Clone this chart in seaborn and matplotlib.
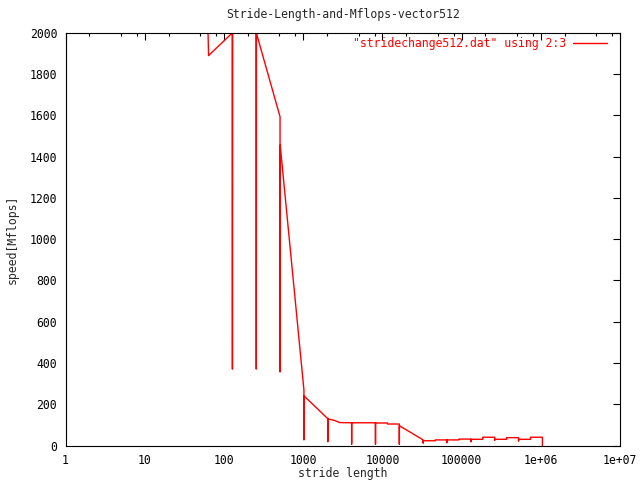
import matplotlib
matplotlib.use("Agg")
import matplotlib.pyplot as plt
import seaborn as sns
import pandas as pd
from matplotlib.ticker import FixedLocator, FixedFormatter, NullFormatter

# stride values (column 2) and speed in Mflops (column 3)
stride = [1, 2, 3, 4, 7, 8, 9, 15, 16, 17, 31, 32, 33, 63, 64, 65,
          127, 128, 129, 255, 256, 257, 511, 512, 513,
          1023, 1024, 1025, 2047, 2048, 2049, 2500, 2896, 4095, 4096, 4097,
          8191, 8192, 8193, 11584, 11585, 16383, 16384, 16385,
          32767, 32768, 32769, 46340, 46341, 65535, 65536, 65537,
          92681, 92682, 131071, 131072, 131073, 185363, 185364,
          262143, 262144, 262145, 370727, 370728, 524287, 524288, 524289,
          741454, 741455, 1048575, 1048576]
mflops = [1998, 1998, 1998, 1998, 1998, 1998, 1998, 1998, 1998, 1998, 1998, 1998, 1998, 1998, 1889, 1892,
          1998, 371, 1998, 1998, 371, 1998, 1593, 357, 1456,
          270, 28, 241, 131, 19, 130, 122, 112, 111, 7, 111,
          111, 7, 110, 110, 105, 105, 7, 97,
          28, 12, 24, 24, 28, 28, 14, 28,
          28, 32, 32, 19, 31, 31, 41,
          41, 26, 31, 31, 39, 39, 22, 31,
          31, 41, 41, 0]

xtick_pos = [1, 10, 100, 1000, 10000, 100000, 1e6, 1e7]
xtick_lab = ["1", "10", "100", "1000", "10000", "100000", "1e+06", "1e+07"]
ytick_pos = list(range(0, 2001, 200))

title = "Stride-Length-and-Mflops-vector512"
series_label = '"stridechange512.dat" using 2:3'

df = pd.DataFrame({"stride": stride, "mflops": mflops})

sns.set_style("white")
plt.rcParams["font.family"] = ["DejaVu Sans Mono", "DejaVu Sans"]
fs = 8.3

fig = plt.figure(figsize=(6.4, 4.8), dpi=100)
ax = fig.add_axes([65.5 / 640, 1 - 445.7 / 480, (620 - 65.5) / 640, (445.7 - 32.7) / 480])

sns.lineplot(data=df, x="stride", y="mflops", sort=False, estimator=None,
             color="#ff0000", lw=1.0, ax=ax, label=series_label)

ax.set_xscale("log")
ax.set_xlim(1, 1e7)
ax.set_ylim(0, 2000)
ax.xaxis.set_major_locator(FixedLocator(xtick_pos))
ax.xaxis.set_major_formatter(FixedFormatter(xtick_lab))
ax.xaxis.set_minor_locator(FixedLocator([m * 10 ** k for k in range(7) for m in (2, 5, 8)]))
ax.xaxis.set_minor_formatter(NullFormatter())
ax.set_yticks(ytick_pos)
ax.set_yticklabels([str(v) for v in ytick_pos])

ax.tick_params(which="both", direction="in", top=True, right=True,
               color="black", width=0.8, labelsize=fs, labelcolor="black")
ax.tick_params(which="major", length=5, pad=6)
ax.tick_params(which="minor", length=2.5)
for s in ax.spines.values():
    s.set_color("black")
    s.set_linewidth(0.8)
    s.set_visible(True)

ax.set_xlabel("stride length", fontsize=fs)
ax.set_ylabel("speed[Mflops]", fontsize=fs)
ax.xaxis.set_label_coords(0.5, -0.052)
ax.yaxis.set_label_coords(-0.085, 0.5)

# title centred over the plot area, as gnuplot does
ax.text(0.5, (480 - 15 - (480 - 445.7)) / 413, title, transform=ax.transAxes,
        ha="center", va="center", fontsize=fs)

leg = ax.legend(loc="upper right", bbox_to_anchor=(1 - 6 / 554.5, 1 + 3 / 413),
                frameon=False, markerfirst=False,
                handlelength=2.9, handletextpad=0.6, borderaxespad=0.25,
                fontsize=fs)
for t in leg.get_texts():
    t.set_color("#ff0000")

fig.savefig("out.png", dpi=100, facecolor="white")
